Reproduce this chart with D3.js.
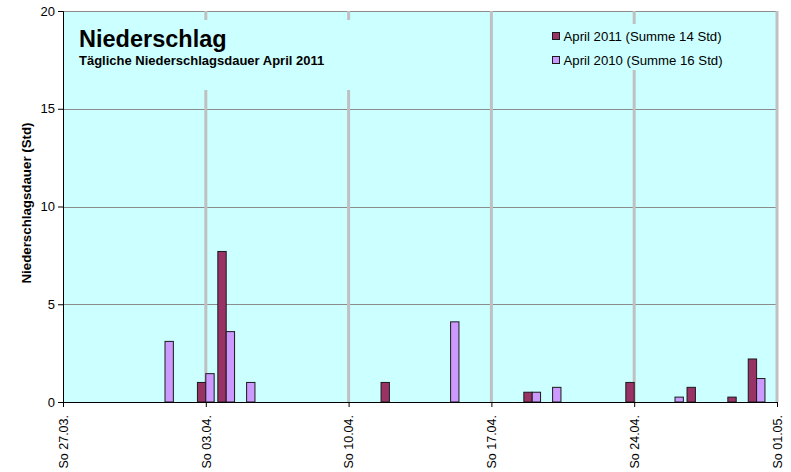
<!DOCTYPE html>
<html lang="de">
<head>
<meta charset="UTF-8">
<title>Niederschlag April 2011</title>
<style>
  body { margin: 0; background: #fff; font-family: "Liberation Sans", Arial, sans-serif; }
  svg text { fill: #000; }
  .grid-h { stroke: #8c8c8c; stroke-width: 1; }
  .grid-v { stroke: #c0c0c0; stroke-width: 3; }
  .bar { stroke: #1a1a1a; stroke-width: 1; }
</style>
</head>
<body>
<svg width="791" height="472"></svg>
<script src="https://d3js.org/d3.v7.min.js"></script>
<script>
// Tage mit Niederschlag (andere Tage = 0)
const days = ["01.04", "03.04", "04.04", "05.04", "12.04", "15.04", "19.04", "20.04", "24.04", "26.04", "27.04", "29.04", "30.04"];
const rain2011 = [0, 1, 7.7, 0, 1, 0, 0.5, 0, 1, 0, 0.75, 0.25, 2.2];
const rain2010 = [3.1, 1.45, 3.6, 1, 0, 4.1, 0.5, 0.75, 0, 0.25, 0, 0, 1.2];

const seriesNames = ["April 2011 (Summe 14 Std)", "April 2010 (Summe 16 Std)"];
const seriesColors = ["#993366", "#cc99ff"];

const tickDates = ["27.03", "03.04", "10.04", "17.04", "24.04", "01.05"];
const tickLabels = ["So 27.03.", "So 03.04.", "So 10.04.", "So 17.04.", "So 24.04.", "So 01.05."];
const yTicks = [0, 5, 10, 15, 20];

const parseDay = s => d3.timeParse("%d.%m.%Y")(s + ".2011");

const svg = d3.select("svg");
const m = { left: 63, right: 777, top: 11, bottom: 402 };

const x = d3.scaleTime()
    .domain([parseDay("27.03"), parseDay("01.05")])
    .range([m.left, m.right]);
const y = d3.scaleLinear().domain([0, 20]).range([m.bottom, m.top]);

const dayW = x(parseDay("02.04")) - x(parseDay("01.04"));
const bw = dayW * 0.41;

// Zeichenfläche
svg.append("rect")
    .attr("x", m.left).attr("y", m.top)
    .attr("width", m.right - m.left).attr("height", m.bottom - m.top)
    .attr("fill", "#ccffff");

svg.append("g").selectAll("line")
    .data(yTicks.slice(1))
    .join("line")
    .attr("class", "grid-h")
    .attr("x1", m.left).attr("x2", m.right)
    .attr("y1", d => Math.round(y(d)) + 0.5).attr("y2", d => Math.round(y(d)) + 0.5);

svg.append("g").selectAll("line")
    .data(tickDates.slice(1))
    .join("line")
    .attr("class", "grid-v")
    .attr("x1", d => x(parseDay(d))).attr("x2", d => x(parseDay(d)))
    .attr("y1", m.top).attr("y2", m.bottom);

// Titel- und Legendenfelder verdecken die Gitterlinien
svg.append("rect").attr("x", 72).attr("y", 20).attr("width", 290).attr("height", 70).attr("fill", "#ccffff");
svg.append("rect").attr("x", 545).attr("y", 24).attr("width", 185).attr("height", 46).attr("fill", "#ccffff");

// Balken
const bars = svg.append("g");
[rain2011, rain2010].forEach((vals, si) => {
  bars.append("g").selectAll("rect")
    .data(days.map((d, i) => ({ date: parseDay(d), v: vals[i] })).filter(d => d.v > 0))
    .join("rect")
    .attr("class", "bar")
    .attr("fill", seriesColors[si])
    .attr("x", d => x(d.date) + (si === 0 ? -bw : 0))
    .attr("width", bw)
    .attr("y", d => y(d.v))
    .attr("height", d => y(0) - y(d.v));
});

// Achsen
const yAxis = svg.append("g")
    .attr("transform", `translate(${m.left},0)`)
    .call(d3.axisLeft(y).tickValues(yTicks).tickSize(5).tickPadding(3));
yAxis.select(".domain").attr("stroke", "#000");
yAxis.selectAll("text").attr("font-size", "13px").attr("font-family", "Liberation Sans, Arial, sans-serif");

const xAxis = svg.append("g")
    .attr("transform", `translate(0,${m.bottom})`)
    .call(d3.axisBottom(x)
      .tickValues(tickDates.map(parseDay))
      .tickFormat((d, i) => tickLabels[i])
      .tickSize(5).tickSizeOuter(0));
xAxis.select(".domain").attr("stroke", "#000");
xAxis.selectAll("text")
    .attr("font-size", "12.5px")
    .attr("font-family", "Liberation Sans, Arial, sans-serif")
    .attr("transform", "rotate(-90)")
    .attr("text-anchor", "end")
    .attr("x", -13).attr("y", 0).attr("dy", "0.35em");

svg.append("text")
    .attr("transform", `translate(30.5,203) rotate(-90)`)
    .attr("text-anchor", "middle")
    .attr("font-size", "13.3px").attr("font-weight", "bold")
    .text("Niederschlagsdauer (Std)");

// Titel
svg.append("text").attr("x", 79).attr("y", 47)
    .attr("font-size", "23.5px").attr("font-weight", "bold")
    .text("Niederschlag");
svg.append("text").attr("x", 79).attr("y", 64.5)
    .attr("font-size", "13px").attr("font-weight", "bold")
    .text("Tägliche Niederschlagsdauer April 2011");

// Legende
const leg = svg.append("g").attr("transform", "translate(552.5,32.5)");
seriesNames.forEach((name, i) => {
  const g = leg.append("g").attr("transform", `translate(0,${i * 24})`);
  g.append("rect").attr("width", 7).attr("height", 7)
    .attr("fill", seriesColors[i]).attr("stroke", "#1a1a1a");
  g.append("text").attr("x", 11).attr("y", 8)
    .attr("font-size", "13.2px").text(name);
});
</script>
</body>
</html>
